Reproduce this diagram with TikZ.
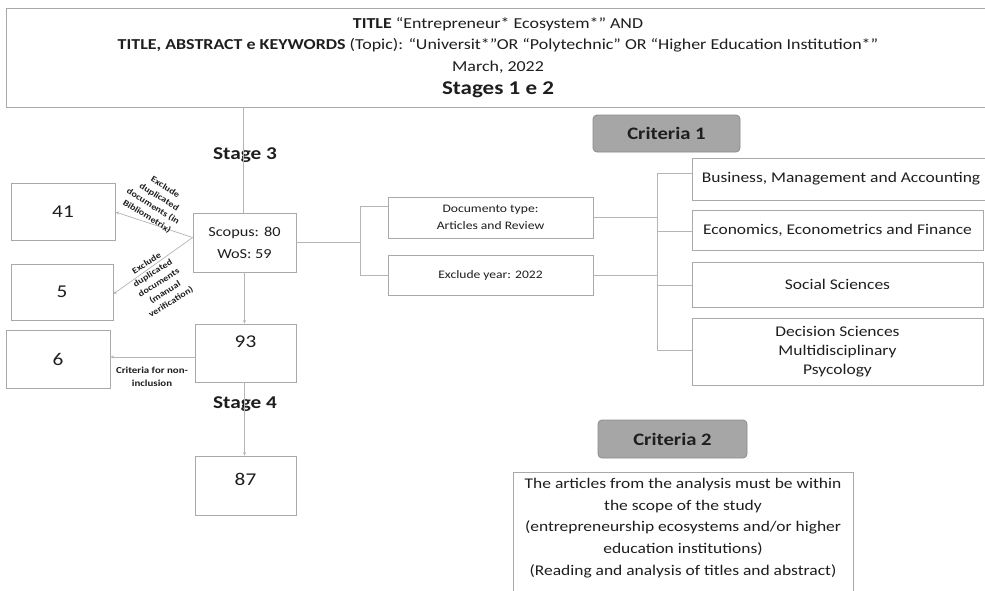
\documentclass[tikz,border=0pt]{standalone}
\usepackage{fontspec}
\setmainfont{Carlito}[FakeStretch=1.18]
\usetikzlibrary{arrows.meta}
\definecolor{boxgray}{HTML}{A9A9A9}
\definecolor{linegray}{HTML}{B5B5B5}
\definecolor{critfill}{HTML}{A6A6A6}
\definecolor{critdraw}{HTML}{8C8C8C}
\definecolor{txt}{HTML}{1E1E1E}
\begin{document}
\begin{tikzpicture}[x=1pt,y=-1pt,
  box/.style={draw=boxgray,line width=0.8pt,inner sep=0pt,align=center,text=txt},
  conn/.style={draw=linegray,line width=0.7pt},
  arr/.style={conn,-{Stealth[length=3.5pt,width=3pt]}},
  crit/.style={draw=critdraw,fill=critfill,rounded corners=4pt,line width=0.8pt,inner sep=0pt,font=\fontsize{17.5}{19}\selectfont\bfseries,text=txt},
  stagelbl/.style={font=\fontsize{18}{20}\selectfont\bfseries,text=txt},
  numtxt/.style={font=\fontsize{18}{19}\selectfont,text=txt},
  diag/.style={font=\fontsize{8.6}{11.5}\selectfont\bfseries,text=txt,align=center,inner sep=0pt},
  rtxt/.style={font=\fontsize{14.8}{19}\selectfont},
]
\useasboundingbox (0,0) rectangle (985,590);
\fill[white] (0,0) rectangle (985,590);

% top box
\node[box,minimum width=984pt,minimum height=99pt,font=\fontsize{15.2}{21.5}\selectfont] (top) at (498,57.5)
 {\textbf{TITLE} ``Entrepreneur* Ecosystem*'' AND\\
  \textbf{TITLE, ABSTRACT e KEYWORDS} (Topic): ``Universit*''OR ``Polytechnic'' OR ``Higher Education Institution*''\\
  March, 2022\\[1.5pt]
  {\fontsize{19.5}{20}\selectfont\bfseries Stages 1 e 2}};

% left column
\node[box,minimum width=103pt,minimum height=59pt,font=\fontsize{13.8}{22}\selectfont] (scopus) at (244.5,242.5) {Scopus: 80\\WoS: 59};
\node[box,minimum width=104pt,minimum height=57pt,numtxt] (b41) at (63,211.5) {41};
\node[box,minimum width=102pt,minimum height=56pt,numtxt] (b5) at (62,292) {5};
\node[box,minimum width=104pt,minimum height=58pt,numtxt] (b6) at (58,359) {6};
\node[box,minimum width=101pt,minimum height=58pt] (b93) at (245.5,353) {};
\node[numtxt] (t93) at (245.5,342) {93};
\node[box,minimum width=101pt,minimum height=59pt] (b87) at (245.5,485.5) {};
\node[numtxt] (t87) at (245.5,479) {87};

\node[stagelbl] (s3) at (245,155) {Stage 3};
\node[stagelbl] (s4) at (245,404) {Stage 4};

% connectors left
\draw[conn] (top.south -| scopus.north) ++(-1.5,0) coordinate (tp) -- (tp |- scopus.north);
\draw[arr] (scopus.south) -- (b93.north -| scopus.south);
\draw[arr] (b93.south -| scopus.south) -- (b87.north -| scopus.south);
\coordinate (sw) at ([yshift=5pt]scopus.west);
\draw[arr] (sw) -- ([yshift=-0.5pt]b41.east);
\draw[arr] (sw) -- ([yshift=-2pt]b5.east);
\draw[arr] (b93.west |- 0,357) -- (b6.east |- 0,357);

\node[diag,rotate=-32] (d1) at (156,202) {Exclude\\duplicated\\documents (in\\Bibliometrix)};
\node[diag,rotate=32] (d2) at (159,283) {Exclude\\duplicated\\documents\\(manual\\verification)};
\node[diag,font=\fontsize{9.2}{13}\selectfont\bfseries] (d3) at (152,377) {Criteria for non-\\inclusion};

% criteria 1 middle
\node[box,minimum width=205pt,minimum height=41pt,font=\fontsize{11.5}{17.5}\selectfont] (doc) at (490.5,217.5) {Documento type:\\Articles and Review};
\node[box,minimum width=205pt,minimum height=40pt,font=\fontsize{11.5}{13}\selectfont] (year) at (490.5,275) {Exclude year: 2022};
\coordinate (m1) at (360,242.5);
\draw[conn] (scopus.east) -- (m1);
\draw[conn] (360,206) coordinate (mt) -- (360,275) coordinate (mb);
\draw[conn] (mt) -- (mt -| doc.west);
\draw[conn] (mb) -- (year.west);

% right boxes
\node[box,minimum width=298pt,minimum height=42pt,rtxt] (bus) at (841,179) {Business, Management and Accounting};
\node[box,minimum width=291pt,minimum height=40pt,rtxt] (econ) at (837.5,230) {Economics, Econometrics and Finance};
\node[box,minimum width=291pt,minimum height=45pt,rtxt] (soc) at (837.5,284.5) {Social Sciences};
\node[box,minimum width=291pt,minimum height=67pt,rtxt] (dec) at (837.5,351.5) {Decision Sciences\\Multidisciplinary\\Psycology};

\coordinate (rt) at (657,173);
\coordinate (rb) at (657,350);
\draw[conn] (rt) -- (rb);
\draw[conn] (doc.east) -- (doc.east -| rt);
\draw[conn] (year.east) -- (year.east -| rt);
\draw[conn] (rt) -- (rt -| bus.west);
\draw[conn] (657,231) -- (econ.west |- 0,231);
\draw[conn] (657,285) -- (soc.west |- 0,285);
\draw[conn] (rb) -- (dec.west |- rb);

% criteria labels
\node[crit,minimum width=147pt,minimum height=37pt] (c1) at (666.5,133.5) {Criteria 1};
\node[crit,minimum width=149pt,minimum height=38pt] (c2) at (672.5,439) {Criteria 2};

\node[box,minimum width=340pt,minimum height=130pt,anchor=north] (c2t) at (683,472) {};
\node[align=center,font=\fontsize{14.8}{21.7}\selectfont,text=txt,anchor=north,inner sep=0pt] (c2txt) at (683,478)
 {The articles from the analysis must be within\\the scope of the study\\(entrepreneurship ecosystems and/or higher\\education institutions)\\(Reading and analysis of titles and abstract)};
\end{tikzpicture}
\end{document}
